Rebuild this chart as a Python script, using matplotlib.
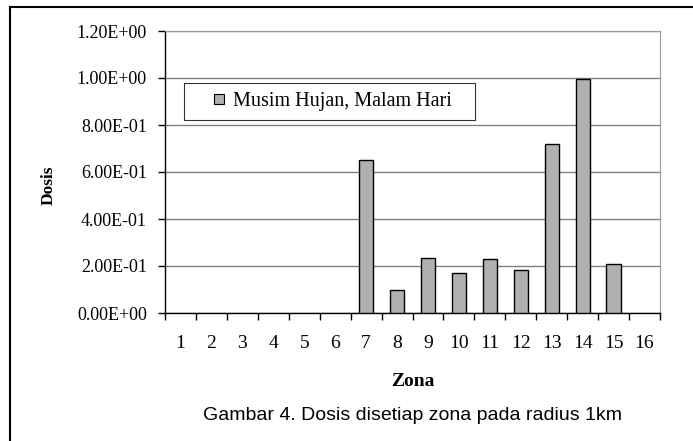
import matplotlib.pyplot as plt
import numpy as np
from matplotlib.lines import Line2D

# data
zona = list(range(1, 17))
dosis = [0, 0, 0, 0, 0, 0, 0.651, 0.099, 0.235, 0.169, 0.230, 0.182, 0.718, 0.997, 0.209, 0]
yticks = [0.0, 0.2, 0.4, 0.6, 0.8, 1.0, 1.2]
ytick_labels = ['0.00E+00', '2.00E-01', '4.00E-01', '6.00E-01', '8.00E-01', '1.00E+00', '1.20E+00']
legend_label = 'Musim Hujan, Malam Hari'
caption = 'Gambar 4. Dosis disetiap zona pada radius 1km'

W, H = 693, 441
fig = plt.figure(figsize=(W / 100, H / 100), dpi=100)
ax = fig.add_axes([165 / W, 1 - 313 / H, (660 - 165) / W, (313 - 31) / H])

serif = 'Liberation Serif'
bar_color = '#b0b0b0'
edges = ['black' if d > 0 else 'none' for d in dosis]
ax.bar(zona, dosis, width=0.46, color=bar_color, edgecolor=edges, linewidth=1.0, zorder=3)

ax.set_xlim(0.5, 16.5)
ax.set_ylim(0, 1.2)
ax.set_yticks(yticks)
ax.set_yticklabels(ytick_labels, fontfamily=serif, fontsize=13)
ax.set_xticks(zona)
ax.set_xticklabels([str(z) for z in zona], fontfamily=serif, fontsize=14)
ax.set_xticks(np.arange(0.5, 17, 1), minor=True)
ax.tick_params(axis='x', which='major', length=0, pad=16)
ax.tick_params(axis='x', which='minor', length=5, direction='out', width=1)
ax.tick_params(axis='y', length=5, direction='out', width=1, pad=8)
ax.grid(axis='y', color='#808080', linewidth=1, zorder=0)

for s in ['top', 'right']:
    ax.spines[s].set_color('#999999')
for s in ['left', 'bottom']:
    ax.spines[s].set_color('black')
    ax.spines[s].set_linewidth(1)

ax.set_xlabel('Zona', fontfamily=serif, fontsize=14, fontweight='bold', labelpad=15)
ax.set_ylabel('Dosis', fontfamily=serif, fontsize=12.5, fontweight='bold')
ax.yaxis.set_label_coords(-0.218, 0.454)

# legend: square marker handle, box stretched to the width seen in the picture
handle = Line2D([], [], linestyle='none', marker='s', markersize=7.5,
                markerfacecolor=bar_color, markeredgecolor='black', markeredgewidth=0.8)
leg = ax.legend([handle], [legend_label], loc='upper left',
                bbox_to_anchor=(19 / 495, 1 - 52 / 282 - 0.1, (475 - 184) / 495, 0.1), mode='expand',
                borderaxespad=0, prop={'family': serif, 'size': 14.5}, numpoints=1,
                frameon=True, fancybox=False, edgecolor='black', handlelength=2.6,
                handletextpad=-0.6, borderpad=0.45)
leg.get_frame().set_linewidth(0.8)

fig.text(413 / W, 1 - 415 / H, caption, fontfamily='Liberation Sans', fontsize=14,
         ha='center', va='center')

# outer frame
fig.add_artist(Line2D([10 / W, 10 / W], [0, 1 - 7 / H], transform=fig.transFigure, color='black', linewidth=1.5))
fig.add_artist(Line2D([10 / W, 1], [1 - 7 / H, 1 - 7 / H], transform=fig.transFigure, color='black', linewidth=1.5))

fig.savefig('out.png', dpi=100)
